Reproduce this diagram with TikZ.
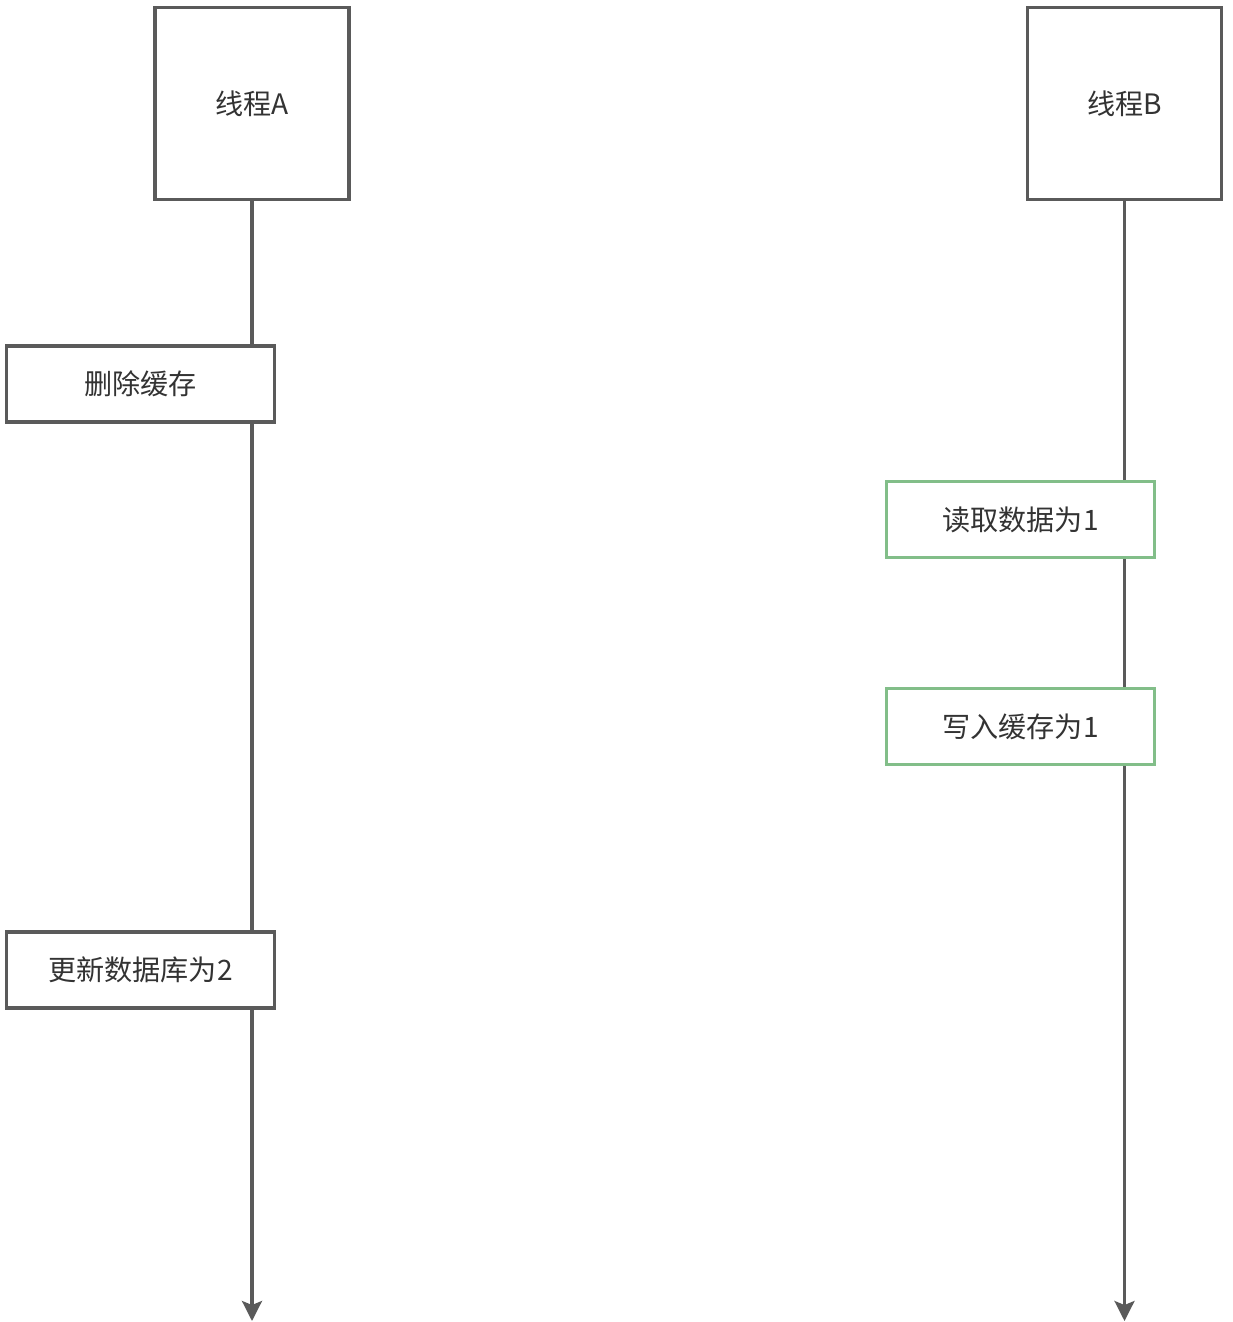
\documentclass[tikz,border=0pt]{standalone}
\usepackage{fontspec}
\newfontfamily\cjk{Noto Sans CJK SC}
\usetikzlibrary{arrows.meta}
\definecolor{linegray}{RGB}{90,90,90}
\definecolor{textgray}{RGB}{51,51,51}
\definecolor{stepgreen}{RGB}{130,190,137}

\begin{document}
\begin{tikzpicture}[
    x=0.025cm, y=-0.025cm,
    thread/.style={draw=linegray, line width=2.2pt, fill=white, align=center,
      minimum width=4.85cm, minimum height=4.8cm, inner sep=0pt,
      font=\cjk\fontsize{20}{24}\selectfont, text=textgray},
    stepbox/.style={draw=linegray, line width=2.2pt, fill=white, align=center,
      minimum width=6.7cm, minimum height=1.9cm, inner sep=0pt,
      font=\cjk\fontsize{20}{24}\selectfont, text=textgray},
    greenbox/.style={stepbox, draw=stepgreen},
    life/.style={line width=2.2pt, draw=linegray},
    arrow/.style={life, -{Stealth[length=0.5cm, width=0.5cm, inset=0.1cm]}}
  ]
    \useasboundingbox (0,0) rectangle (1232,1322);
    % threads
    \node[thread] (thA) at (252,103.5) {线程A};
    \node[thread] (thB) at (1124.5,103.5) {线程B};
    % steps of thread A
    \node[stepbox] (del) at (140.5,384) {删除缓存};
    \node[stepbox] (upd) at (140.5,970) {更新数据库为2};
    % steps of thread B
    \node[greenbox] (rd) at (1020.5,519.5) {读取数据为1};
    \node[greenbox] (wr) at (1020.5,726.5) {写入缓存为1};
    \coordinate (endA) at (250,1321);
    \coordinate (endB) at (1120,1321);
    % life lines
    \draw[life] (thA.south) -- (thA.south |- del.north);
    \draw[life] (thA.south |- del.south) -- (thA.south |- upd.north);
    \draw[arrow] (thA.south |- upd.south) -- (endA -| thA.south);
    \draw[life] (thB.south) -- (thB.south |- rd.north);
    \draw[life] (thB.south |- rd.south) -- (thB.south |- wr.north);
    \draw[arrow] (thB.south |- wr.south) -- (endB -| thB.south);
  \end{tikzpicture}
\end{document}
